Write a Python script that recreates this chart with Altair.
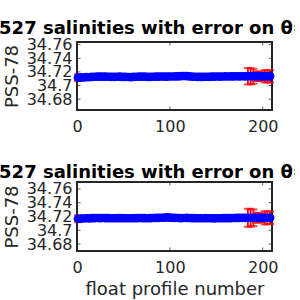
import altair as alt
import pandas as pd

profiles = [1, 4, 7, 10, 13, 16, 19, 22, 25, 28, 31, 34, 37, 40, 43, 46, 49, 52, 55, 58,
            61, 64, 67, 70, 73, 76, 79, 82, 85, 88, 91, 94, 97, 100, 103, 106, 109, 112, 115, 118,
            121, 124, 127, 130, 133, 136, 139, 142, 145, 148, 151, 154, 157, 160, 163, 166, 169, 172, 175, 178,
            181, 184, 187, 190, 193, 196, 199, 202, 205, 208]

sal_1 = [34.7116, 34.7118, 34.7120, 34.7124, 34.7122, 34.7127, 34.7129, 34.7131, 34.7130, 34.7131,
         34.7130, 34.7129, 34.7128, 34.7127, 34.7129, 34.7130, 34.7128, 34.7126, 34.7125, 34.7124,
         34.7127, 34.7129, 34.7130, 34.7131, 34.7130, 34.7128, 34.7127, 34.7129, 34.7130, 34.7131,
         34.7132, 34.7131, 34.7130, 34.7132, 34.7133, 34.7134, 34.7135, 34.7137, 34.7140, 34.7138,
         34.7134, 34.7131, 34.7129, 34.7127, 34.7126, 34.7127, 34.7129, 34.7128, 34.7130, 34.7131,
         34.7132, 34.7131, 34.7133, 34.7134, 34.7133, 34.7135, 34.7134, 34.7136, 34.7135, 34.7136,
         34.7135, 34.7137, 34.7136, 34.7135, 34.7136, 34.7137, 34.7135, 34.7136, 34.7134, 34.7135]

err_1 = [0.005] + [0.002] * 60 + [0.012, 0.012, 0.011, 0.007, 0.007, 0.006, 0.009, 0.009, 0.009]

sal_2 = [34.7168, 34.7170, 34.7171, 34.7174, 34.7172, 34.7176, 34.7177, 34.7178, 34.7177, 34.7178,
         34.7177, 34.7176, 34.7175, 34.7174, 34.7176, 34.7177, 34.7176, 34.7175, 34.7174, 34.7175,
         34.7176, 34.7177, 34.7178, 34.7177, 34.7176, 34.7175, 34.7176, 34.7178, 34.7179, 34.7180,
         34.7182, 34.7184, 34.7188, 34.7184, 34.7181, 34.7179, 34.7178, 34.7177, 34.7178, 34.7179,
         34.7178, 34.7177, 34.7176, 34.7175, 34.7174, 34.7175, 34.7176, 34.7175, 34.7174, 34.7173,
         34.7174, 34.7175, 34.7176, 34.7177, 34.7176, 34.7177, 34.7178, 34.7179, 34.7180, 34.7181,
         34.7180, 34.7181, 34.7182, 34.7181, 34.7182, 34.7181, 34.7180, 34.7181, 34.7182, 34.7181]

err_2 = [0.005] + [0.002] * 60 + [0.013, 0.013, 0.012, 0.007, 0.007, 0.006, 0.0095, 0.0095, 0.009]

y_domain_1 = [34.664, 34.764]
y_domain_2 = [34.670, 34.770]
x_domain = [0, 210]
y_ticks = [34.68, 34.70, 34.72, 34.74, 34.76]
x_ticks = [0, 100, 200]

title_text = "6901527 salinities with error on θ=3.5°C"
y_title = "PSS-78"
x_title = "float profile number"

TXT = "#262626"
FONT = "DejaVu Sans"


def panel(sal, err, ydom, height, show_xtitle):
    df = pd.DataFrame({"profile": profiles, "sal": sal, "err": err})
    df["lo"] = df["sal"] - df["err"]
    df["hi"] = df["sal"] + df["err"]
    xs = alt.Scale(domain=x_domain, nice=False, zero=False)
    ys = alt.Scale(domain=ydom, nice=False, zero=False)
    xax = alt.Axis(values=x_ticks, format="d", ticks=False, domain=False, grid=False,
                   labelFont=FONT, labelFontSize=16, labelColor=TXT, labelPadding=8,
                   labelFlush=False, labelOverlap=False,
                   title=x_title if show_xtitle else None,
                   titleFont=FONT, titleFontSize=18, titleFontWeight="normal",
                   titleColor=TXT, titlePadding=5)
    yax = alt.Axis(values=y_ticks, format=".2~f", ticks=False, domain=False, grid=False,
                   labelFont=FONT, labelFontSize=16, labelColor=TXT, labelPadding=5,
                   labelOverlap=False, labelFlush=False, labelBound=False,
                   title=y_title, titleFont=FONT, titleFontSize=18, titleFontWeight="normal",
                   titleColor=TXT, titlePadding=5)

    def X(f):
        return alt.X(f, type="quantitative", scale=xs, axis=xax)

    def Y(f):
        return alt.Y(f, type="quantitative", scale=ys, axis=yax)

    base = alt.Chart(df)
    rules = base.mark_rule(color="#FF0000", strokeWidth=1.8).encode(
        x=X("profile"), y=Y("lo"), y2="hi:Q")
    cap_lo = base.mark_tick(color="#FF0000", orient="horizontal", size=8, thickness=2).encode(
        x=X("profile"), y=Y("lo"))
    cap_hi = base.mark_tick(color="#FF0000", orient="horizontal", size=8, thickness=2).encode(
        x=X("profile"), y=Y("hi"))
    pts = base.mark_circle(color="#0000FF", opacity=1, size=75).encode(
        x=X("profile"), y=Y("sal"))
    # inside tick marks (MATLAB style)
    yt = pd.DataFrame([{"xe": xe, "yv": yv} for xe in x_domain for yv in y_ticks])
    xt = pd.DataFrame([{"xv": xv, "ye": ye} for ye in ydom for xv in x_ticks])
    ytick = alt.Chart(yt).mark_tick(color=TXT, orient="horizontal", size=7, thickness=1, clip=True).encode(
        x=X("xe"), y=Y("yv"))
    xtick = alt.Chart(xt).mark_tick(color=TXT, orient="vertical", size=7, thickness=1, clip=True).encode(
        x=X("xv"), y=Y("ye"))
    return alt.layer(rules, cap_lo, cap_hi, pts, ytick, xtick).properties(
        width=195, height=height,
        title=alt.TitleParams(text=title_text, anchor="start", frame="group", dx=-128,
                              offset=-15, baseline="alphabetic", font=FONT, fontSize=18,
                              fontWeight="bold", color="#000000"),
    )


c1 = panel(sal_1, err_1, y_domain_1, 68, False)
c2 = panel(sal_2, err_2, y_domain_2, 69, True)

chart = alt.vconcat(c1, c2, spacing=72, bounds="flush").properties(
    autosize=alt.AutoSizeParams(type="none"),
    padding={"left": 77, "top": 42, "right": 23, "bottom": 258},
).configure_view(stroke=TXT, strokeWidth=2).configure_axis(labelOverlap=False)

chart.save("out.html", embed_options={"renderer": "svg", "actions": False})
